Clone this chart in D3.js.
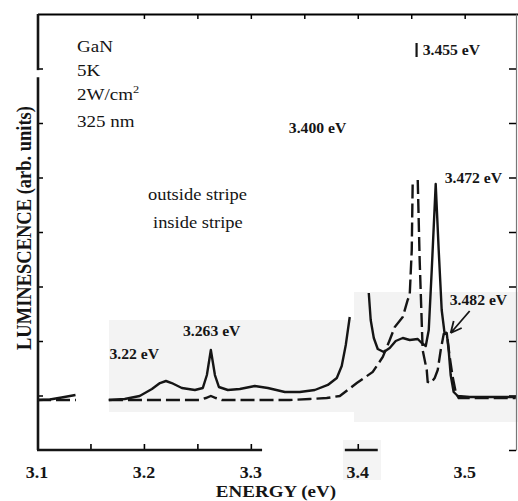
<!DOCTYPE html>
<html>
<head>
<meta charset="utf-8">
<script src="https://cdn.jsdelivr.net/npm/d3@7"></script>
<style>
  body { margin: 0; background: #fff; }
  svg { display: block; }
</style>
</head>
<body>
<div id="chart"></div>
<script>

// Tick labels on the energy axis
var energyTicks = [3.1, 3.2, 3.3, 3.4, 3.5];
var bottomTicks = [3.15, 3.2, 3.25, 3.3, 3.4];
var topTicks = [3.2, 3.25, 3.3, 3.35, 3.4, 3.45, 3.5];
var lumTicks = [1, 2, 3, 4, 5, 6, 7];

// Solid spectrum (null = gap / off scale)
var solidEnergy = [3.100, 3.112, 3.123, 3.136, 3.150,
  3.167, 3.182, 3.196, 3.2075, 3.215, 3.2206, 3.226, 3.2355, 3.2477, 3.2551, 3.2589, 3.2626, 3.2664, 3.2701,
  3.2785, 3.2897, 3.3037, 3.3159, 3.3318, 3.3458, 3.3598, 3.372, 3.3804, 3.385, 3.3888, 3.3925, 3.400,
  3.4103, 3.4121, 3.415, 3.4187, 3.4243, 3.4299, 3.4355, 3.4421, 3.4486, 3.4561, 3.4598, 3.4636, 3.4664,
  3.4692, 3.4729, 3.4757, 3.4785, 3.4813, 3.4832, 3.485, 3.4869, 3.4897, 3.4935, 3.5047, 3.5477];
var solidLum = [0.917, 0.927, 0.963, 1.009, null,
  0.917, 0.936, 0.991, 1.119, 1.229, 1.266, 1.229, 1.138, 1.101, 1.138, 1.376, 1.835, 1.376, 1.156,
  1.101, 1.119, 1.174, 1.138, 1.064, 1.064, 1.101, 1.193, 1.321, 1.541, 1.927, 2.44, null,
  2.881, 2.385, 2.055, 1.853, 1.798, 1.872, 2.0, 2.055, 2.018, 2.037, 1.963, 1.908, 2.202,
  3.303, 4.881, 3.67, 2.569, 2.128, 2.147, 1.835, 1.376, 1.064, 0.991, 0.972, 0.972];

// Dashed spectrum
var dashedEnergy = [3.100, 3.1364, 3.150,
  3.1673, 3.2523, 3.2579, 3.2626, 3.2673, 3.2729, 3.3364, 3.3551, 3.371, 3.3832, 3.3991, 3.414, 3.4234,
  3.4299, 3.4346, 3.4421, 3.4467, 3.4486, 3.4505, 3.4514, 3.4535,
  3.4561, 3.4579, 3.4607, 3.4645, 3.4654, 3.4682, 3.472, 3.4748, 3.4776, 3.4804, 3.4822, 3.4841,
  3.486, 3.4888, 3.4916, 3.4944, 3.5047, 3.5477];
var dashedLum = [0.917, 0.917, null,
  0.917, 0.917, 0.954, 0.991, 0.954, 0.917, 0.917, 0.936, 0.954, 0.991, 1.229, 1.431, 1.706,
  2.018, 2.257, 2.44, 2.752, 2.844, 3.67, 4.954, null,
  4.954, 3.486, 1.835, 1.468, 1.248, 1.229, 1.321, 1.468, 1.835, 2.128, 2.147, 2.018,
  1.706, 1.339, 1.064, 0.954, 0.954, 0.954];

// Peak labels [text, energy, luminescence]
var peakLabels = [
  ["3.22 eV", 3.1678, 1.67],
  ["3.263 eV", 3.2365, 2.09],
  ["3.400 eV", 3.3355, 5.82],
  ["3.455 eV", 3.4607, 7.25],
  ["3.472 eV", 3.4813, 4.9],
  ["3.482 eV", 3.4860, 2.66]
];

// Define SVG area dimensions
var svgWidth = 518;
var svgHeight = 501;
var font = "'Liberation Serif', 'Times New Roman', serif";
var ink = "#151515";

var svg = d3.select("#chart")
  .append("svg")
  .attr("width", svgWidth)
  .attr("height", svgHeight);

// scales
var x = d3.scaleLinear().domain([3.1, 3.548]).range([37, 516]);
var y = d3.scaleLinear().domain([0, 8]).range([450, 14]);

// faint scan shading behind the spectra
svg.append("rect").attr("x", 109).attr("y", 320).attr("width", 245).attr("height", 92).attr("fill", "#f3f3f3");
svg.append("rect").attr("x", 354).attr("y", 292).attr("width", 164).attr("height", 130).attr("fill", "#f3f3f3");
svg.append("rect").attr("x", 343).attr("y", 440).attr("width", 38).attr("height", 40).attr("fill", "#f4f4f4");

function addText(px, py, txt, size, weight, anchor) {
  return svg.append("text")
    .attr("transform", `translate(${px},${py}) scale(1.12,1)`)
    .attr("font-family", font)
    .attr("font-size", size)
    .attr("font-weight", weight)
    .attr("text-anchor", anchor || "start")
    .attr("fill", ink)
    .text(txt);
}

// frame: top and right
svg.append("g")
  .attr("transform", `translate(0, ${y(8)})`)
  .call(d3.axisTop(x).tickValues(topTicks).tickSize(-5).tickSizeOuter(0).tickFormat(""))
  .call(g => g.select(".domain").attr("d", `M${x(3.1) + 1},0.5H518`).attr("stroke-width", 2))
  .call(g => g.selectAll(".tick line").attr("stroke-width", 1.5));

svg.append("g")
  .attr("transform", `translate(${x(3.548)}, 0)`)
  .call(d3.axisLeft(y).tickValues(lumTicks.concat([0])).tickSize(7).tickSizeOuter(0).tickFormat(""))
  .call(g => g.select(".domain").attr("stroke-width", 1.2).attr("stroke", "#777"))
  .call(g => g.selectAll(".tick line").attr("stroke-width", 1.5));

// left axis, broken near the top
var leftX = x(3.1) + 1;
svg.append("g")
  .attr("transform", `translate(${leftX}, 0)`)
  .call(d3.axisRight(y).tickValues(lumTicks).tickSize(5).tickSizeOuter(0).tickFormat(""))
  .call(g => g.select(".domain").remove())
  .call(g => g.selectAll(".tick line").attr("stroke-width", 1.5));

[[8, 6.97], [6.84, 0]].forEach(function(s) {
  svg.append("line")
    .attr("x1", leftX).attr("x2", leftX)
    .attr("y1", y(s[0])).attr("y2", y(s[1]))
    .attr("stroke", ink).attr("stroke-width", 2.6);
});

// bottom axis, broken
svg.append("g")
  .attr("transform", `translate(0, ${y(0)})`)
  .call(d3.axisTop(x).tickValues(bottomTicks).tickSize(6).tickSizeOuter(0).tickFormat(""))
  .call(g => g.select(".domain").remove())
  .call(g => g.selectAll(".tick line").attr("stroke-width", 1.6));

[[3.1, 3.3105], [3.3879, 3.4187]].forEach(function(s) {
  svg.append("line")
    .attr("x1", x(s[0])).attr("x2", x(s[1]))
    .attr("y1", y(0)).attr("y2", y(0))
    .attr("stroke", ink).attr("stroke-width", 2.6);
});

// tick labels
energyTicks.forEach(function(t) {
  addText(x(t), 478, d3.format(".1f")(t), 16, "bold", "middle");
});

// axis titles
addText(276, 497, "ENERGY (eV)", 17, "bold", "middle");
svg.append("text")
  .attr("transform", "translate(31,228) rotate(-90) scale(1,1.12)")
  .attr("font-family", font)
  .attr("font-size", 18.5)
  .attr("font-weight", "bold")
  .attr("text-anchor", "middle")
  .attr("fill", ink)
  .text("LUMINESCENCE (arb. units)");

// sample info
addText(77, 52, "GaN", 17, "normal");
addText(77, 76, "5K", 17, "normal");
var pw = addText(77, 100, "2W/cm", 17, "normal");
pw.append("tspan").attr("dy", -7).attr("font-size", 11).text("2");
addText(77, 127, "325 nm", 17, "normal");

// legend text
addText(148, 200, "outside stripe", 16.5, "normal");
addText(153, 228, "inside stripe", 16.5, "normal");

// spectra
var line = d3.line()
  .defined(d => d[1] !== null)
  .x(d => x(d[0]))
  .y(d => y(d[1]));

var solidData = solidEnergy.map((e, i) => [e, solidLum[i]]);
var dashedData = dashedEnergy.map((e, i) => [e, dashedLum[i]]);

svg.append("path")
  .datum(dashedData)
  .attr("d", line)
  .attr("fill", "none")
  .attr("stroke", ink)
  .attr("stroke-width", 2.4)
  .attr("stroke-dasharray", "14,5");

svg.append("path")
  .datum(solidData)
  .attr("d", line)
  .attr("fill", "none")
  .attr("stroke", ink)
  .attr("stroke-width", 2.4)
  .attr("stroke-linejoin", "round");

// peak labels
peakLabels.forEach(function(p) {
  addText(x(p[1]), y(p[2]), p[0], 14, "bold");
});

// marker bar before 3.455 eV
svg.append("line")
  .attr("x1", x(3.455)).attr("x2", x(3.455))
  .attr("y1", 43).attr("y2", 57)
  .attr("stroke", ink).attr("stroke-width", 2.2);

// arrow to the 3.482 eV shoulder
var tipX = x(3.4841) + 3, tipY = y(2.147);
svg.append("path")
  .attr("d", `M${tipX + 19},${tipY - 22}L${tipX},${tipY}M${tipX},${tipY}l3,-12M${tipX},${tipY}l11,-5`)
  .attr("fill", "none")
  .attr("stroke", ink)
  .attr("stroke-width", 1.8);

</script>
</body>
</html>
